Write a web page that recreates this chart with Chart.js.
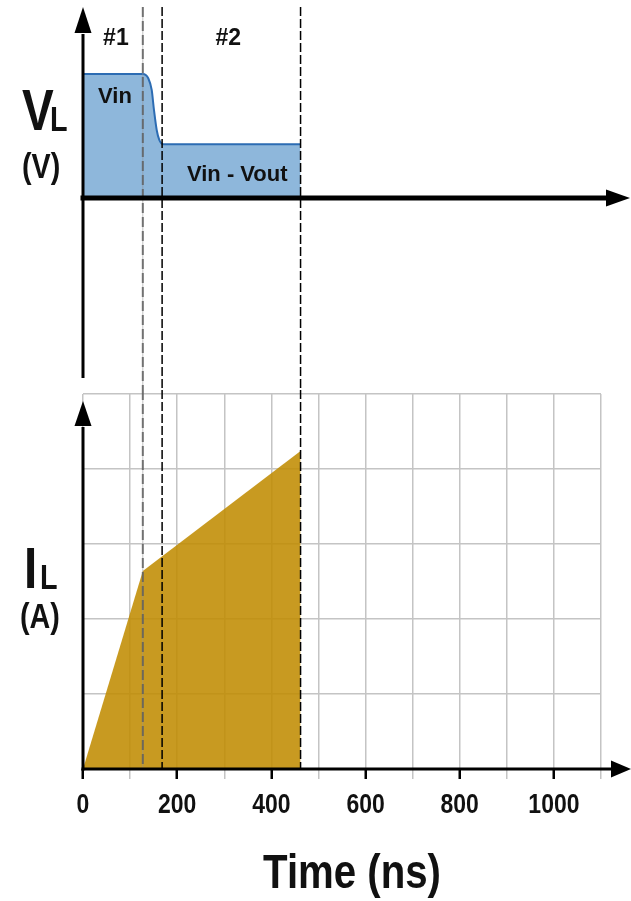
<!DOCTYPE html>
<html>
<head>
<meta charset="utf-8">
<script src="https://cdn.jsdelivr.net/npm/chart.js@4/dist/chart.umd.min.js"></script>
<style>
  html, body { margin: 0; padding: 0; background: #ffffff; }
  #wrap { position: relative; width: 631px; height: 901px; overflow: hidden; background: #ffffff; }
  #wrap canvas { position: absolute; left: 0; }
  #vl { top: 0; }
  #il { top: 390px; }
</style>
</head>
<body>
<div id="wrap">
  <canvas id="vl" width="631" height="390"></canvas>
  <canvas id="il" width="631" height="511"></canvas>
</div>
<script>
// ---- data -------------------------------------------------------------
// Time axis (ns)
const timeTicks = [0, 200, 400, 600, 800, 1000];
const timeMax = 1100;
// Phase boundaries (ns): switch edge, end of phase #1, end of phase #2
const phaseMarks = [127, 168, 462];
const phaseNames = ['#1', '#2'];
// Inductor voltage VL, normalised to Vin
const vlTime  = [0, 127, 138.6, 145.9, 150.7, 156.5, 162, 170.5, 462];
const vlValue = [1.0, 1.0, 0.965, 0.871, 0.71, 0.548, 0.468, 0.433, 0.433];
const vlLabels = ['Vin', 'Vin - Vout'];
// Inductor current IL (A)
const ilTime  = [0, 127, 462];
const ilValue = [0, 2.64, 4.24];
const ilMax = 5;

// ---- fonts ------------------------------------------------------------
// Condensed bold face for axis titles and tick labels; squeeze the regular
// face when the narrow one is not installed.
const NARROW = (function () {
  const c = document.createElement('canvas').getContext('2d');
  c.font = 'bold 100px "Liberation Sans Narrow"';
  const a = c.measureText('1000 Time (ns)').width;
  c.font = 'bold 100px "Liberation Sans"';
  const b = c.measureText('1000 Time (ns)').width;
  const r = a / b;
  if (r > 0.74 && r < 0.9) return { family: '"Liberation Sans Narrow"', sx: 1 };
  return { family: '"Liberation Sans", Arial, sans-serif', sx: 0.82 };
})();
const REGULAR = '"Liberation Sans", Arial, sans-serif';
const INK = '#111111';

function narrowText(ctx, str, x, y, size, align) {
  ctx.save();
  ctx.font = 'bold ' + size + 'px ' + NARROW.family;
  ctx.textAlign = align || 'left';
  ctx.textBaseline = 'alphabetic';
  ctx.fillStyle = INK;
  ctx.translate(x, y);
  ctx.scale(NARROW.sx, 1);
  ctx.fillText(str, 0, 0);
  ctx.restore();
}
function plainText(ctx, str, x, y, size, align) {
  ctx.save();
  ctx.font = 'bold ' + size + 'px ' + REGULAR;
  ctx.textAlign = align || 'left';
  ctx.textBaseline = 'alphabetic';
  ctx.fillStyle = INK;
  ctx.fillText(str, x, y);
  ctx.restore();
}

// ---- drawing helpers --------------------------------------------------
function arrowUp(ctx, x, tipY, baseY, bottomY, lw) {
  ctx.save();
  ctx.strokeStyle = '#000';
  ctx.fillStyle = '#000';
  ctx.lineWidth = lw;
  ctx.beginPath();
  ctx.moveTo(x, bottomY);
  ctx.lineTo(x, baseY + 1);
  ctx.stroke();
  ctx.beginPath();
  ctx.moveTo(x, tipY);
  ctx.lineTo(x - 8.5, baseY);
  ctx.lineTo(x + 8.5, baseY);
  ctx.closePath();
  ctx.fill();
  ctx.restore();
}
function arrowRight(ctx, y, leftX, baseX, tipX, lw, halfH) {
  ctx.save();
  ctx.strokeStyle = '#000';
  ctx.fillStyle = '#000';
  ctx.lineWidth = lw;
  ctx.beginPath();
  ctx.moveTo(leftX - lw / 2, y);
  ctx.lineTo(baseX + 1, y);
  ctx.stroke();
  ctx.beginPath();
  ctx.moveTo(tipX, y);
  ctx.lineTo(baseX, y - halfH);
  ctx.lineTo(baseX, y + halfH);
  ctx.closePath();
  ctx.fill();
  ctx.restore();
}
function phaseLine(ctx, x, y0, y1, idx) {
  ctx.save();
  if (idx === 0) {
    ctx.strokeStyle = 'rgba(150,150,150,0.55)';
    ctx.lineWidth = 1;
    ctx.beginPath(); ctx.moveTo(x, y0); ctx.lineTo(x, y1); ctx.stroke();
    ctx.strokeStyle = 'rgba(95,95,95,0.85)';
    ctx.lineWidth = 2;
    ctx.setLineDash([10, 4]);
  } else {
    ctx.strokeStyle = '#000';
    ctx.lineWidth = 1.5;
    ctx.setLineDash([9, 3]);
  }
  ctx.beginPath(); ctx.moveTo(x, y0); ctx.lineTo(x, y1); ctx.stroke();
  ctx.restore();
}

const common = {
  responsive: false,
  animation: false,
  devicePixelRatio: 1,
  plugins: { legend: { display: false }, tooltip: { enabled: false } },
  elements: { point: { radius: 0, hoverRadius: 0 } }
};

// ---- VL panel ---------------------------------------------------------
const vlOverlay = {
  id: 'vlOverlay',
  afterDatasetsDraw(chart) {
    const ctx = chart.ctx;
    const xs = chart.scales.x, ys = chart.scales.y;
    const x0 = xs.getPixelForValue(0);
    const yz = ys.getPixelForValue(0);
    phaseMarks.forEach((t, i) => phaseLine(ctx, xs.getPixelForValue(t), 7, chart.height, i));
    arrowUp(ctx, x0, 7, 33, chart.chartArea.bottom, 3);
    arrowRight(ctx, yz, x0, 606, 630, 5, 8.5);

    // phase names centred in their intervals
    const p1 = xs.getPixelForValue((0 + phaseMarks[0]) / 2) + 3;
    const p2 = xs.getPixelForValue((phaseMarks[1] + phaseMarks[2]) / 2) - 3;
    plainText(ctx, phaseNames[0], p1, 45, 23, 'center');
    plainText(ctx, phaseNames[1], p2, 45, 23, 'center');

    plainText(ctx, vlLabels[0], x0 + 15, ys.getPixelForValue(vlValue[0]) + 29, 22, 'left');
    plainText(ctx, vlLabels[1], xs.getPixelForValue(vlTime[vlTime.length - 1]) - 13, yz - 17, 22, 'right');

    narrowText(ctx, 'V', 22, 130, 58);
    narrowText(ctx, 'L', 50, 131, 35);
    narrowText(ctx, '(V)', 22, 178, 35);
  }
};

new Chart(document.getElementById('vl'), {
  type: 'line',
  data: {
    datasets: [{
      data: vlTime.map((t, i) => ({ x: t, y: vlValue[i] })),
      borderColor: '#2c6cb3',
      borderWidth: 2,
      backgroundColor: 'rgb(142,183,219)',
      fill: 'origin',
      cubicInterpolationMode: 'monotone'
    }]
  },
  options: Object.assign({}, common, {
    layout: { padding: { left: 83, right: 30, top: 8, bottom: 12 } },
    scales: {
      x: { type: 'linear', min: 0, max: timeMax, display: false },
      y: { type: 'linear', min: -1.452, max: 1.532, display: false }
    }
  }),
  plugins: [vlOverlay]
});

// ---- IL panel ---------------------------------------------------------
const GRID = '#c4c4c4';
const ilOverlay = {
  id: 'ilOverlay',
  afterDatasetsDraw(chart) {
    const ctx = chart.ctx;
    const xs = chart.scales.x, ys = chart.scales.y;
    const x0 = xs.getPixelForValue(0);
    const yz = ys.getPixelForValue(0);
    phaseMarks.forEach((t, i) => phaseLine(ctx, xs.getPixelForValue(t), 0, yz, i));
    arrowUp(ctx, x0, yz - 368, yz - 343, yz + 1.5, 3);
    arrowRight(ctx, yz, x0, 611, 631, 3, 8.5);

    timeTicks.forEach(v => narrowText(ctx, String(v), xs.getPixelForValue(v), yz + 44, 28, 'center'));
    narrowText(ctx, 'Time (ns)', 352, yz + 119, 49, 'center');

    narrowText(ctx, 'I', 24, 198, 58);
    narrowText(ctx, 'L', 40, 199, 35);
    narrowText(ctx, '(A)', 20, 238, 35);
  }
};

new Chart(document.getElementById('il'), {
  type: 'line',
  data: {
    datasets: [{
      data: ilTime.map((t, i) => ({ x: t, y: ilValue[i] })),
      borderWidth: 0,
      borderColor: 'rgba(0,0,0,0)',
      backgroundColor: 'rgba(192,140,2,0.88)',
      fill: 'origin',
      tension: 0
    }]
  },
  options: Object.assign({}, common, {
    layout: { padding: { left: 83, right: 30, top: 4, bottom: 0 } },
    scales: {
      x: {
        type: 'linear', min: 0, max: timeMax,
        border: { display: false },
        ticks: { stepSize: 100, display: false, autoSkip: false, maxRotation: 0 },
        grid: {
          color: GRID,
          lineWidth: 1.5,
          drawTicks: true,
          tickLength: 10,
          tickColor: c => (c.tick && c.tick.value % 200 === 0 && c.tick.value <= 1000) ? '#000' : GRID,
          tickWidth: c => (c.tick && c.tick.value % 200 === 0 && c.tick.value <= 1000) ? 2.5 : 1.5
        },
        afterFit: s => { s.height = 132; }
      },
      y: {
        type: 'linear', min: 0, max: ilMax,
        border: { display: false },
        ticks: { stepSize: 1, display: false },
        grid: { color: GRID, lineWidth: 1.5, drawTicks: false },
        afterFit: s => { s.width = 0; }
      }
    }
  }),
  plugins: [ilOverlay]
});
</script>
</body>
</html>
